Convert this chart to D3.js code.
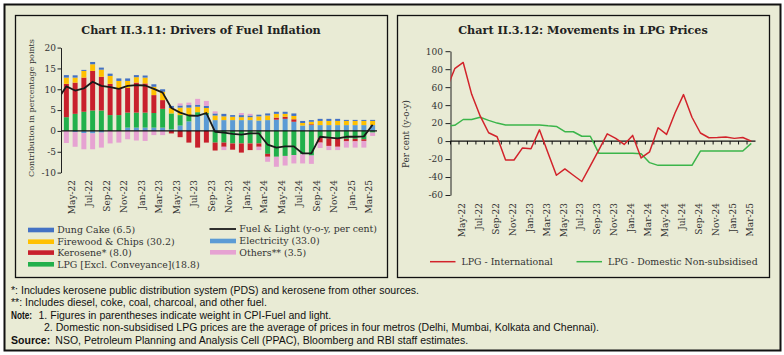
<!DOCTYPE html>
<html><head><meta charset="utf-8">
<script src="https://cdn.jsdelivr.net/npm/d3@7"></script>
<style>
html,body{margin:0;padding:0;background:#fff;}
svg{display:block;}
</style></head><body>
<svg id="c" width="784" height="355"></svg>
<script>
// ---------- DATA ----------
const months = ["Apr-22","May-22","Jun-22","Jul-22","Aug-22","Sep-22","Oct-22","Nov-22","Dec-22","Jan-23","Feb-23","Mar-23",
  "Apr-23","May-23","Jun-23","Jul-23","Aug-23","Sep-23","Oct-23","Nov-23","Dec-23","Jan-24","Feb-24","Mar-24",
  "Apr-24","May-24","Jun-24","Jul-24","Aug-24","Sep-24","Oct-24","Nov-24","Dec-24","Jan-25","Feb-25","Mar-25"];
const xTickLabels = ["May-22","Jul-22","Sep-22","Nov-22","Jan-23","Mar-23","May-23","Jul-23","Sep-23","Nov-23",
  "Jan-24","Mar-24","May-24","Jul-24","Sep-24","Nov-24","Jan-25","Mar-25"];
const yTicksLeft = [-10,-5,0,5,10,15,20];
const yTicksRight = [-60,-40,-20,0,20,40,60,80,100];

// Chart II.3.11 contributions (percentage points)
const electricity = [0,-0.3,-0.5,-0.6,-0.4,0,0,0.8,0.8,0.8,0.8,0.8,0.4,1.3,2.3,3.6,3.9,2.6,2.6,2.6,2.6,2.6,2.5,2.6,2.7,2.9,2.2,1.3,1.4,1.4,1.4,1.4,1.4,1.4,1.4,1.4];
const lpg = [3.3,4.1,4.6,4.9,4.9,3.8,3.8,3.6,3.6,3.6,3.5,4.5,3.8,2.5,1.5,0.9,0.4,-2.8,-2.8,-3.0,-3.0,-3.0,-3.0,-5.5,-6.2,-6.0,-5.8,-5.6,-5.9,-1.7,-1.8,-1.9,-1.9,-1.9,-2.0,-0.4];
const kerosene = [8.0,7.5,8.2,9.5,8.1,7.5,6.5,5.9,7.2,7.0,4.3,2.1,-0.6,-1.5,-2.8,-4.0,-2.8,-1.9,-1.0,-1.5,-2.2,-1.6,-0.8,-0.7,0.5,0.5,0.6,0,0.2,-1.1,-1.8,-1.9,-0.6,-0.6,-0.4,0];
const firewood = [1.5,1.2,1.6,1.6,1.7,1.9,1.7,1.7,1.3,1.4,2.0,2.0,1.3,1.8,1.8,1.3,1.2,1.1,0.9,0.8,0.7,0.7,1.0,1.1,0.9,0.7,0.8,0.6,0.6,1.0,1.0,1.0,1.0,1.0,1.0,1.0];
const dungCake = [0.6,0.55,0.25,0.55,0.5,0.55,0.6,0.6,0.5,0.5,0.6,0.6,0.5,0.5,0.6,0.5,0.5,0.5,0.6,0.4,0.5,0.4,0.4,0.5,0.5,0.5,0.6,0.5,0.4,0.5,0.5,0.5,0.25,0.25,0.25,0.25];
const others = [-2.9,-3.5,-3.9,-3.8,-3.6,-3.0,-2.8,-2.0,-2.3,-2.4,-1.0,-1.0,0,0.5,0.6,1.4,1.2,0.5,-0.8,0,0.5,0.4,-0.8,-1.2,-2.4,-2.3,-2.0,-2.2,-2.0,-1.3,-1.0,-0.8,-1.5,-1.5,-1.6,-0.8];
const fuelLight = [10.7,9.7,10.2,11.8,10.8,10.5,10.1,10.8,11.0,10.9,10.1,9.2,5.5,4.4,3.7,3.6,4.3,-0.2,-0.4,-0.7,-0.9,-0.6,-0.6,-3.3,-4.0,-3.7,-3.7,-5.4,-5.4,-1.4,-1.6,-1.8,-1.4,-1.4,-1.3,1.5];
const fuelLightPrev = 7.5; // Mar-22, drawn before the axis and clipped

// Chart II.3.12 LPG prices (y-o-y, per cent)
const lpgIntl = [80.5,87.5,52,28,9.3,4.8,-21,-21,-7.6,-8.5,12.5,-13,-38,-31,-38,-45,-27.5,-10,8,3,-3.7,6.3,-18.8,-12,14.8,7.4,31.3,51.7,26.5,9,3.7,4,4.6,3,4,0];
const lpgIntlPrev = 57;
const lpgDom = [17.5,24,24,26.5,23,20,18,18,18,18,18,17,16.3,10.4,10.4,5.4,5.4,-13.5,-13.5,-13.5,-13.5,-13.5,-14,-24,-27,-27,-27,-27,-27,-11.1,-11.1,-11.1,-11.1,-11.1,-11.1,-2.6];
const lpgDomPrev = 16.5;

// ---------- STYLE ----------
const SERIF = "'DejaVu Serif', serif";
const BG = "#e9ebd5";
const INK = "#222";
const colors = {electricity:"#5b9bd5", lpg:"#22b04b", kerosene:"#c8202c", firewood:"#ffc000", dungCake:"#4472c4", others:"#e6a2d2"};

const svg = d3.select("#c");
svg.append("rect").attr("x",4.5).attr("y",4.5).attr("width",776).attr("height",346)
  .attr("fill",BG).attr("stroke","#111").attr("stroke-width",2);
[15,397].forEach(x=>svg.append("rect").attr("x",x+0.5).attr("y",15.5).attr("width",372).attr("height",262)
  .attr("fill","none").attr("stroke","#111").attr("stroke-width",1.3));

// ---------- LEFT CHART ----------
const L = svg.append("g");
L.append("text").attr("x",201).attr("y",34).attr("text-anchor","middle")
  .attr("font-family",SERIF).attr("font-weight","bold").attr("font-size",11.2).attr("fill",INK)
  .text("Chart II.3.11: Drivers of Fuel Inflation");

const xL = d3.scaleBand().domain(months).range([62,377]).paddingInner(0.43).paddingOuter(0.215);
const yL = d3.scaleLinear().domain([-10,20]).range([172.6,47.6]);
const bwL = xL.bandwidth();

const keys = ["electricity","lpg","kerosene","firewood","dungCake","others"];
const src = {electricity, lpg, kerosene, firewood, dungCake, others};
const rows = months.map((m,i)=>{const r={month:m}; keys.forEach(k=>r[k]=src[k][i]); return r;});
const stacked = d3.stack().keys(keys).offset(d3.stackOffsetDiverging)(rows);

L.append("g").selectAll("g").data(stacked).join("g").attr("fill",d=>colors[d.key])
  .selectAll("rect").data(d=>d).join("rect")
  .attr("x",d=>xL(d.data.month)).attr("width",bwL)
  .attr("y",d=>yL(Math.max(d[0],d[1]))).attr("height",d=>Math.abs(yL(d[0])-yL(d[1])));

const axL = L.append("g").attr("transform","translate(61,0)")
  .call(d3.axisLeft(yL).tickValues(yTicksLeft).tickFormat(d=>String(d)).tickSize(3.5).tickSizeOuter(0).tickPadding(1.5));
axL.selectAll("path,line").attr("stroke",INK).attr("stroke-width",1);
axL.selectAll("text").attr("font-family",SERIF).attr("font-size",9).attr("fill","#333");

L.append("line").attr("x1",61).attr("x2",377).attr("y1",yL(0)).attr("y2",yL(0)).attr("stroke","#111").attr("stroke-width",1.2);

L.append("clipPath").attr("id","clipL").append("rect").attr("x",61).attr("y",40).attr("width",316).attr("height",140);
const linePtsL = [{i:-1,v:fuelLightPrev}].concat(fuelLight.map((v,i)=>({i,v})));
L.append("path").datum(linePtsL).attr("clip-path","url(#clipL)")
  .attr("fill","none").attr("stroke","#1a1a1a").attr("stroke-width",1.8).attr("stroke-linejoin","round")
  .attr("d",d3.line().x(d=>xL(months[0])+bwL/2+d.i*xL.step()).y(d=>yL(d.v)));

L.append("g").selectAll("text").data(xTickLabels).join("text")
  .attr("transform",d=>`translate(${xL(d)+bwL/2-3.5},180) rotate(-90)`)
  .attr("text-anchor","end").attr("dy","0.35em")
  .attr("font-family",SERIF).attr("font-size",9).attr("fill","#333").text(d=>d);

L.append("text").attr("transform","translate(31,108) rotate(-90)").attr("text-anchor","middle").attr("dy","0.35em")
  .attr("font-family",SERIF).attr("font-size",8).attr("fill","#333").text("Contribution in percentage points");

const legL = [
  {key:"dungCake",label:"Dung Cake (6.5)",x:28,y:230},
  {key:"firewood",label:"Firewood & Chips (30.2)",x:28,y:241.7},
  {key:"kerosene",label:"Kerosene* (8.0)",x:28,y:252.6},
  {key:"lpg",label:"LPG [Excl. Conveyance](18.8)",x:28,y:264.3},
  {key:"line",label:"Fuel & Light (y-o-y, per cent)",x:210,y:229},
  {key:"electricity",label:"Electricity (33.0)",x:210,y:241},
  {key:"others",label:"Others** (3.5)",x:210,y:252.3}
];
legL.forEach(d=>{
  if(d.key==="line"){
    L.append("line").attr("x1",d.x-0.5).attr("x2",d.x+26).attr("y1",d.y).attr("y2",d.y).attr("stroke","#1a1a1a").attr("stroke-width",1.8);
  } else {
    L.append("rect").attr("x",d.x).attr("y",d.y-2.3).attr("width",26).attr("height",4.6).attr("fill",colors[d.key]);
  }
  L.append("text").attr("x",d.x+29.3).attr("y",d.y+3.3).attr("font-family",SERIF).attr("font-size",9.4).attr("fill","#333").text(d.label);
});

// ---------- RIGHT CHART ----------
const R = svg.append("g");
R.append("text").attr("x",583).attr("y",34).attr("text-anchor","middle")
  .attr("font-family",SERIF).attr("font-weight","bold").attr("font-size",11.2).attr("fill",INK)
  .text("Chart II.3.12: Movements in LPG Prices");

const xR = d3.scaleBand().domain(months).range([450.5,755.5]).padding(0);
const yR = d3.scaleLinear().domain([-60,100]).range([195,51.2]);
const bwR = xR.bandwidth();

const axR = R.append("g").attr("transform","translate(450.5,0)")
  .call(d3.axisLeft(yR).tickValues(yTicksRight).tickFormat(d=>String(d)).tickSize(5).tickSizeOuter(0).tickPadding(2.5));
axR.selectAll("path,line").attr("stroke",INK).attr("stroke-width",1);
axR.selectAll("text").attr("font-family",SERIF).attr("font-size",9).attr("fill","#333");

R.append("line").attr("x1",450.5).attr("x2",755.5).attr("y1",yR(0)).attr("y2",yR(0)).attr("stroke","#111").attr("stroke-width",1.2);
R.append("g").selectAll("line").data(months).join("line")
  .attr("x1",d=>xR(d)).attr("x2",d=>xR(d)).attr("y1",yR(0)).attr("y2",yR(0)+3.4)
  .attr("stroke","#111").attr("stroke-width",1);

R.append("clipPath").attr("id","clipR").append("rect").attr("x",450.5).attr("y",40).attr("width",305).attr("height",160);
const lineR = d3.line().x(d=>xR(months[0])+bwR/2+d.i*xR.step()).y(d=>yR(d.v));
[[lpgDomPrev,lpgDom,"#3bb54a"],[lpgIntlPrev,lpgIntl,"#d2232b"]].forEach(([p,arr,c])=>{
  const pts=[{i:-1,v:p}].concat(arr.map((v,i)=>({i,v})));
  R.append("path").datum(pts).attr("clip-path","url(#clipR)").attr("fill","none")
    .attr("stroke",c).attr("stroke-width",1.5).attr("stroke-linejoin","round").attr("d",lineR);
});

R.append("g").selectAll("text").data(xTickLabels).join("text")
  .attr("transform",d=>`translate(${xR(d)+bwR/2-1.5},203) rotate(-90)`)
  .attr("text-anchor","end").attr("dy","0.35em")
  .attr("font-family",SERIF).attr("font-size",9).attr("fill","#333").text(d=>d);

R.append("text").attr("transform","translate(406,134) rotate(-90)").attr("text-anchor","middle").attr("dy","0.35em")
  .attr("font-family",SERIF).attr("font-size",8.8).attr("fill","#333").text("Per cent (y-o-y)");

[{label:"LPG - International",c:"#d2232b",x:430},{label:"LPG - Domestic Non-subsidised",c:"#3bb54a",x:576.5}].forEach(d=>{
  R.append("line").attr("x1",d.x).attr("x2",d.x+25.5).attr("y1",261.7).attr("y2",261.7).attr("stroke",d.c).attr("stroke-width",1.5);
  R.append("text").attr("x",d.x+31.5).attr("y",265).attr("font-family",SERIF).attr("font-size",9.4).attr("fill","#333").text(d.label);
});

// ---------- FOOTNOTES ----------
const NARROW = "'Liberation Sans Narrow','Liberation Sans',Arial,sans-serif";
const notes = [
  {y:293.5, parts:[{x:11,t:"*: Includes kerosene public distribution system (PDS) and kerosene from other sources."}]},
  {y:306,   parts:[{x:11,t:"**: Includes diesel, coke, coal, charcoal, and other fuel."}]},
  {y:318.5, parts:[{x:11,t:"Note:",b:true},{x:38.5,t:"1. Figures in parentheses indicate weight in CPI-Fuel and light."}]},
  {y:331,   parts:[{x:44,t:"2. Domestic non-subsidised LPG prices are the average of prices in four metros (Delhi, Mumbai, Kolkata and Chennai)."}]},
  {y:343.5, parts:[{x:11,t:"Source:",b:true},{x:47,t:"NSO, Petroleum Planning and Analysis Cell (PPAC), Bloomberg and RBI staff estimates."}]}
];
const F = svg.append("g").attr("font-family",NARROW).attr("font-size",10).attr("fill","#111");
const nodes=[];
notes.forEach(n=>n.parts.forEach(p=>{
  const t=F.append("text").attr("x",p.x).attr("y",n.y).attr("font-weight",p.b?"bold":"normal").text(p.t);
  nodes.push(t);
}));
// uniform horizontal fit: first footnote spans x 11..419
const nat = nodes[0].node().getComputedTextLength();
const f = 408/nat;
nodes.forEach(t=>{const w=t.node().getComputedTextLength(); t.attr("textLength",w*f).attr("lengthAdjust","spacingAndGlyphs");});
// "Note:" label kept compact so the item number sits clear of it
nodes[2].attr("textLength",21);
// place "Source:" continuation right after the bold label
const srcLabel = nodes[5], srcText = nodes[6];
srcText.attr("x", 11 + srcLabel.node().getComputedTextLength()*f + 3);
</script>
</body></html>
